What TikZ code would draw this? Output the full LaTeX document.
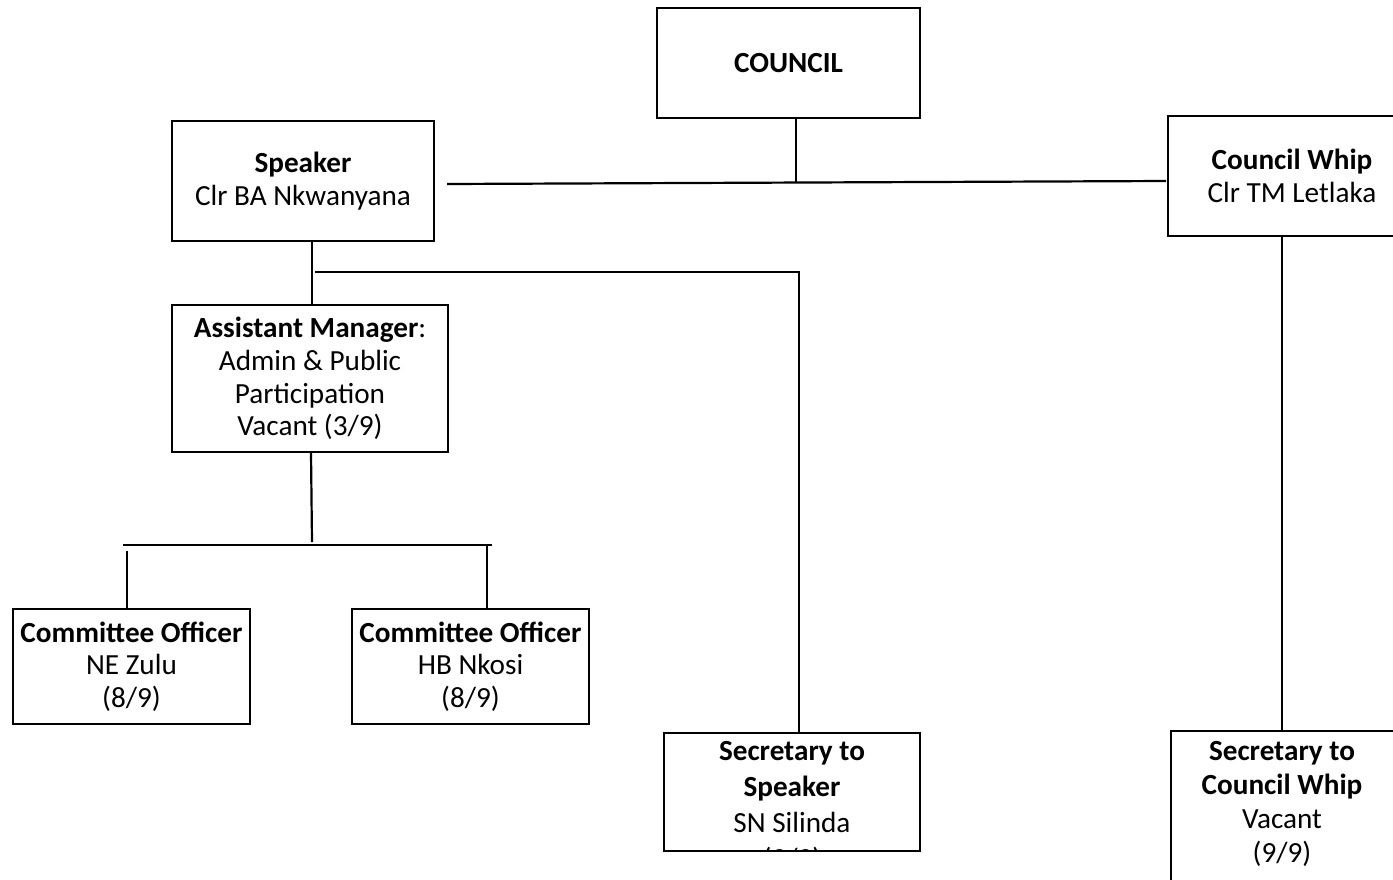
\documentclass[tikz,border=0pt]{standalone}
\usepackage{fontspec}
\setmainfont{Carlito}
\usetikzlibrary{calc}
\begin{document}
\begin{tikzpicture}[x=0.5pt,y=-0.5pt,
  box/.style={draw, line width=0.85pt, fill=white, inner sep=0pt, align=center,
    font=\fontsize{14.6}{16.3}\selectfont},
  label/.style={inner sep=0pt, align=center, font=\fontsize{14.6}{17}\selectfont},
  link/.style={line width=1.1pt}]
\clip (0,0) rectangle (1393,879);
\fill[white] (0,0) rectangle (1393,879);

% boxes
\node[box, minimum width=131.5pt, minimum height=55pt] (council) at (788.5,63) {\textbf{COUNCIL}};
\node[box, minimum width=131pt, minimum height=60pt] (speaker) at (303,181)
  {\textbf{Speaker}\\Clr BA Nkwanyana};
\node[box, minimum width=124pt, minimum height=60pt] (whip) at (1292,176)
  {\textbf{Council Whip}\\Clr TM Letlaka};
\node[box, minimum width=138pt, minimum height=73.5pt] (am) at (310,378.5)
  {\textbf{Assistant Manager}:\\Admin \& Public\\Participation\\Vacant (3/9)};
\node[box, minimum width=118.5pt, minimum height=57.5pt] (co1) at (131.5,666.5)
  {\textbf{Committee Officer}\\NE Zulu\\(8/9)};
\node[box, minimum width=118.5pt, minimum height=57.5pt] (co2) at (470.5,666.5)
  {\textbf{Committee Officer}\\HB Nkosi\\(8/9)};
\node[box, minimum width=128pt, minimum height=59pt] (secs) at (792,792) {};
\node[box, minimum width=112.5pt, minimum height=102pt] (secw) at (1283.5,833) {};

% box contents that run past the lower edge of their frames
\begin{scope}
  \clip (secs.south west) rectangle (secs.north east);
  \node[label, font=\fontsize{14.6}{18}\selectfont] (secstext) at (792,807)
    {\textbf{Secretary to}\\\textbf{Speaker}\\SN Silinda\\(9/9)};
\end{scope}
\node[label] (secwtext) at (1282,803.5)
  {\textbf{Secretary to}\\\textbf{Council Whip}\\Vacant\\(9/9)};

% junction points
\coordinate (cj) at (796,182);
\coordinate (barL) at (447,184);
\coordinate (barR) at (1166,181);
\coordinate (sj) at (312,273);
\coordinate (sbarL) at (315,272);
\coordinate (sbarR) at (799,272);
\coordinate (amdrop) at (312,542);
\coordinate (cbarL) at (123,545);
\coordinate (cbarR) at (492,545);
\coordinate (co1top) at (127,551);
\coordinate (co2top) at (487,545);

% connectors
\draw[link] (council.south -| cj) -- (cj);
\draw[link] (barL) -- (barR);
\draw[link] (sj |- speaker.south) -- (sj |- am.north);
\draw[link] (sbarL) -- (sbarR) -- (sbarR |- secs.north);
\draw[link] (am.south -| 311,0) -- (amdrop);
\draw[link] (cbarL) -- (cbarR);
\draw[link] (co1top) -- (co1top |- co1.north);
\draw[link] (co2top) -- (co2top |- co2.north);
\draw[link] (1282,0 |- whip.south) -- (1282,0 |- secw.north);
\end{tikzpicture}
\end{document}
